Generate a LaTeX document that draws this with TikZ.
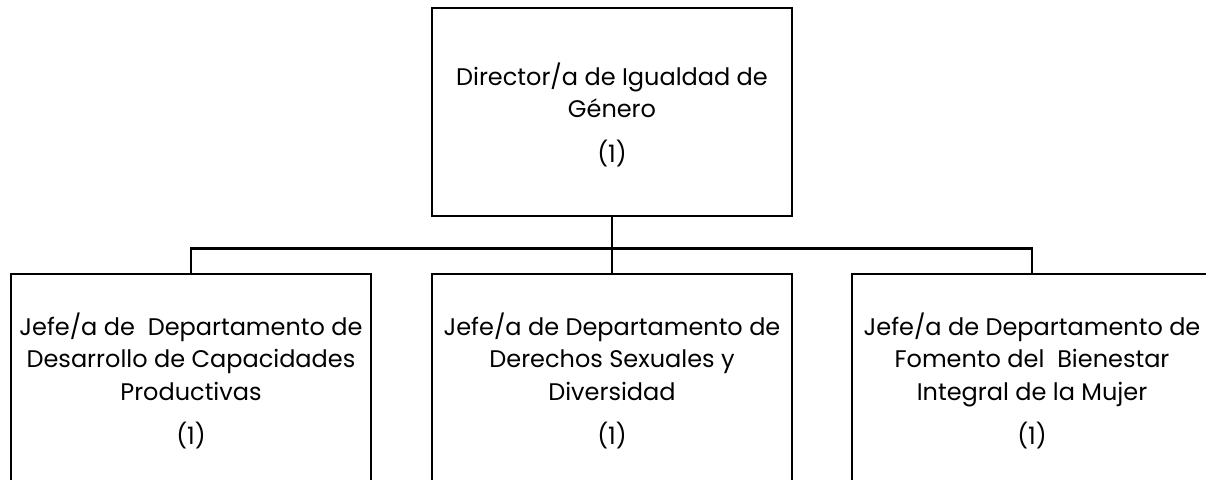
\documentclass[tikz,border=0pt]{standalone}
\usepackage{fontspec}
\setmainfont{Poppins}
\usetikzlibrary{positioning}
\tikzset{
    puesto/.style={draw, line width=2.8pt, minimum width=360pt, minimum height=208pt, inner sep=0pt},
    texto/.style={align=center, inner sep=0pt, font=\fontsize{24}{32.5}\selectfont},
    enlace/.style={line width=2.8pt}
}

\begin{document}
\begin{tikzpicture}[x=1pt, y=-1pt]
            \useasboundingbox (0,0) rectangle (1206,479);
            \fill[white] (0,0) rectangle (1206,479);
            \clip (0,0) rectangle (1206,479);

            % recuadros
            \node[puesto] (dir) at (612,112) {};
            \node[puesto] (izq) at (191,378) {};
            \node[puesto] (cen) at (612,378) {};
            \node[puesto] (der) at (1032,378) {};

            % textos
            \node[texto, below=56pt of dir.north] (dirtxt) {Director/a de Igualdad de\\Género\\[12pt](1)};
            \node[texto, below=40pt of izq.north] (izqtxt) {Jefe/a de\ \ Departamento de\\Desarrollo de Capacidades\\Productivas\\[12pt](1)};
            \node[texto, below=40pt of cen.north] (centxt) {Jefe/a de Departamento de\\Derechos Sexuales y\\Diversidad\\[12pt](1)};
            \node[texto, below=40pt of der.north] (dertxt) {Jefe/a de Departamento de\\Fomento del\ \ Bienestar\\Integral de la Mujer\\[12pt](1)};

            % conectores
            \draw[enlace] (dir.south) -- (cen.north);
            \draw[enlace] (dir.south) ++(0,31) coordinate (bus) -| (izq.north);
            \draw[enlace] (bus) -| (der.north);

        \end{tikzpicture}
\end{document}
